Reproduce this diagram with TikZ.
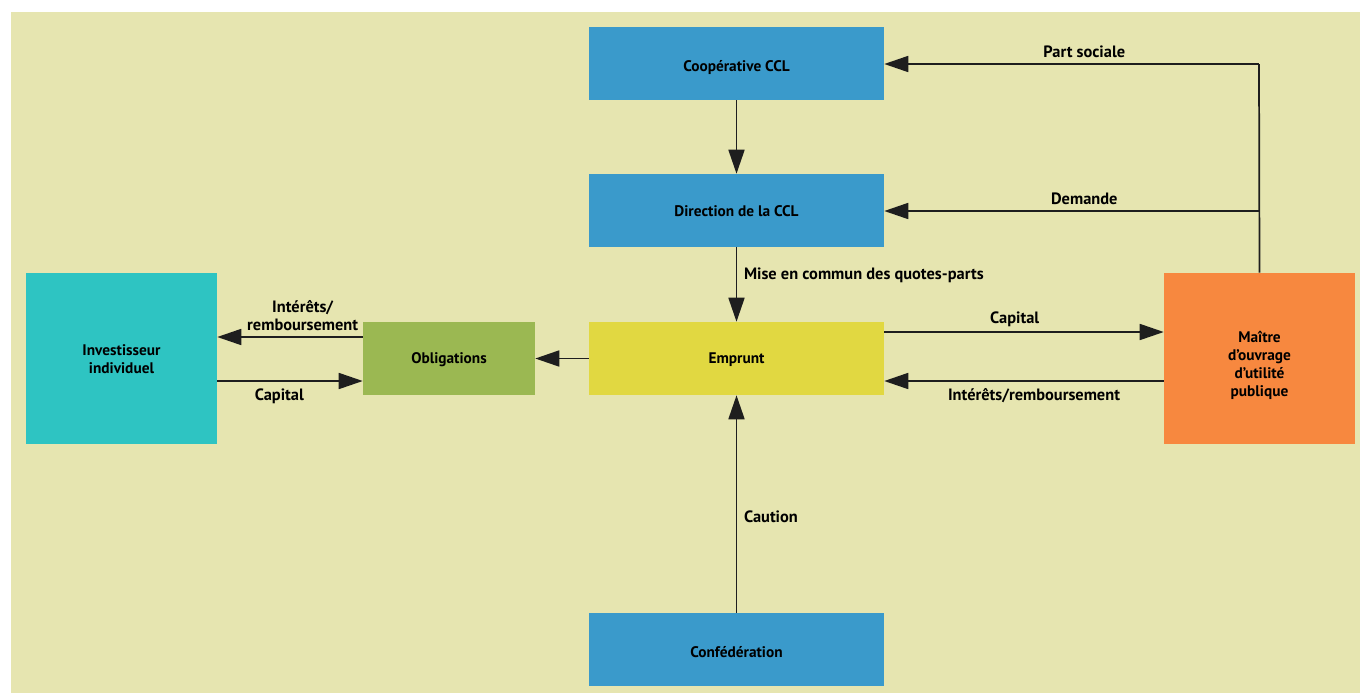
\documentclass[tikz,border=0pt]{standalone}
\usepackage{fontspec}
\setmainfont{PT Sans}
\usetikzlibrary{arrows.meta}
\definecolor{bg}{HTML}{E6E5B0}
\definecolor{cblue}{HTML}{3A9ACB}
\definecolor{cyel}{HTML}{E1D841}
\definecolor{cgreen}{HTML}{9BB852}
\definecolor{ccyan}{HTML}{2EC4C2}
\definecolor{corange}{HTML}{F7883F}
\definecolor{ln}{HTML}{1E1E1E}
\begin{document}
\begin{tikzpicture}[x=0.75pt,y=-0.75pt,
  box/.style={draw=none,minimum width=#1,inner sep=0pt},
  btxt/.style={inner sep=1pt,align=center,font=\bfseries\fontsize{11.5}{13.5}\selectfont},
  lab/.style={font=\bfseries\fontsize{12.3}{13.5}\selectfont,inner sep=1pt,align=center},
  arr/.style={draw=ln,line width=1.3pt,-{Triangle[length=18pt,width=12pt]}},
  ln/.style={draw=ln,line width=1.3pt}]
\useasboundingbox (0,0) rectangle (1360,693);
\fill[white] (0,0) rectangle (1360,693);
\fill[bg] (11,12) rectangle (1360,693);
% boxes
\node[box=295*0.75pt,fill=cblue,minimum height=73*0.75pt] (coop) at (736.5,63.5) {};
\node[box=295*0.75pt,fill=cblue,minimum height=73*0.75pt] (dir) at (736.5,210.5) {};
\node[box=295*0.75pt,fill=cyel,minimum height=73*0.75pt] (emp) at (736.5,358.5) {};
\node[box=295*0.75pt,fill=cblue,minimum height=73*0.75pt] (conf) at (736.5,649.5) {};
\node[box=172*0.75pt,fill=cgreen,minimum height=73*0.75pt] (obl) at (449,358.5) {};
\node[box=191*0.75pt,fill=ccyan,minimum height=171*0.75pt] (inv) at (121.5,358.5) {};
\node[box=191*0.75pt,fill=corange,minimum height=171*0.75pt] (mai) at (1259.5,358.5) {};
% box texts
\node[btxt] (tcoop) at ([yshift=-3pt]coop.center) {Coopérative CCL};
\node[btxt] (tdir) at ([yshift=-0.8pt]dir.center) {Direction de la CCL};
\node[btxt] (temp) at ([yshift=-0.8pt]emp.center) {Emprunt};
\node[btxt] (tconf) at ([yshift=-2.3pt]conf.center) {Confédération};
\node[btxt] (tobl) at ([yshift=-0.5pt]obl.center) {Obligations};
\node[btxt] (tinv) at ([yshift=-0.5pt]inv.center) {Investisseur\\individuel};
\node[btxt] (tmai) at ([yshift=-5.5pt]mai.center) {Maître\\d’ouvrage\\d’utilité\\publique};
% vertical arrows
\draw[arr] (coop.south) -- (dir.north);
\draw[arr] (dir.south) -- node[lab,anchor=west,xshift=4pt,pos=0.37]{Mise en commun des quotes-parts} (emp.north);
\draw[arr] (conf.north) -- node[lab,anchor=west,xshift=4pt,pos=0.44]{Caution} (emp.south);
% left side
\draw[arr] (emp.west) -- (obl.east);
\draw[arr] (obl.west|-0,337) -- node[lab,above=3pt,xshift=9.5pt]{Intérêts/\\remboursement} (inv.east|-0,337);
\draw[arr] (inv.east|-0,381) -- node[lab,below=4pt,xshift=-8pt]{Capital} (obl.west|-0,381);
% right side
\draw[arr] (emp.east|-0,332) -- node[lab,above=2pt,xshift=-7pt]{Capital} (mai.west|-0,332);
\draw[arr] (mai.west|-0,381) -- node[lab,below=4pt,xshift=7.5pt]{Intérêts/remboursement} (emp.east|-0,381);
\coordinate (tc) at (1259,64);
\coordinate (mc) at (1259,211);
\draw[ln] (mai.north) -- (tc);
\draw[arr] (tc) -- node[lab,above=3pt,xshift=9.5pt]{Part sociale} (coop.east|-tc);
\draw[arr] (mc) -- node[lab,above=3pt,xshift=9.5pt]{Demande} (dir.east|-mc);
\end{tikzpicture}
\end{document}
